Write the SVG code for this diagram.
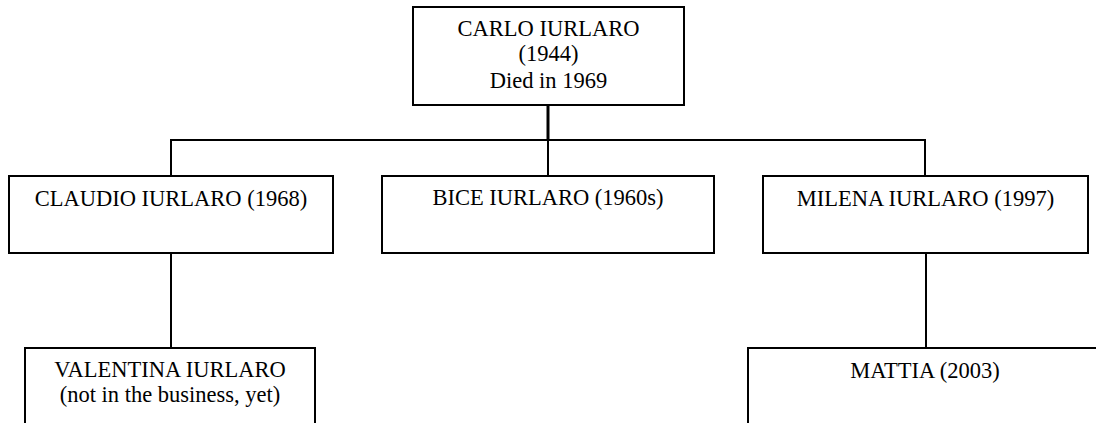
<svg xmlns="http://www.w3.org/2000/svg" width="1096" height="423" viewBox="0 0 1096 423">
<style>
.box{fill:#fff;stroke:#000;stroke-width:2}
.ln{fill:none;stroke:#000;stroke-width:2}
.t{font-family:"Liberation Serif","Times New Roman",serif;font-size:22.5px;fill:#000;text-anchor:middle}
</style>
<rect width="1096" height="423" fill="#fff"/>
<g id="connectors">
<line class="ln" x1="548" y1="105" x2="548" y2="140" style="stroke-width:3"/>
<line class="ln" x1="170" y1="140" x2="926" y2="140"/>
<line class="ln" x1="171" y1="140" x2="171" y2="176"/>
<line class="ln" x1="548" y1="140" x2="548" y2="176"/>
<line class="ln" x1="925" y1="140" x2="925" y2="176"/>
<line class="ln" x1="171" y1="253" x2="171" y2="348"/>
<line class="ln" x1="926" y1="253" x2="926" y2="348"/>
</g>
<g id="carlo">
<rect class="box" x="413" y="7" width="271" height="98"/>
<text class="t" x="548.5" y="36">CARLO IURLARO</text>
<text class="t" x="548.5" y="61">(1944)</text>
<text class="t" x="548.5" y="88">Died in 1969</text>
</g>
<g id="claudio">
<rect class="box" x="9" y="176" width="324" height="77"/>
<text class="t" x="171" y="206">CLAUDIO IURLARO (1968)</text>
</g>
<g id="bice">
<rect class="box" x="382" y="176" width="332" height="77"/>
<text class="t" x="548" y="205">BICE IURLARO (1960s)</text>
</g>
<g id="milena">
<rect class="box" x="763" y="176" width="325" height="77"/>
<text class="t" x="925.5" y="206">MILENA IURLARO (1997)</text>
</g>
<g id="valentina">
<rect class="box" x="25" y="348" width="290" height="90"/>
<text class="t" x="170" y="377">VALENTINA IURLARO</text>
<text class="t" x="170" y="402">(not in the business, yet)</text>
</g>
<g id="mattia">
<rect class="box" x="748" y="348" width="360" height="90"/>
<text class="t" x="925" y="378">MATTIA (2003)</text>
</g>
</svg>
